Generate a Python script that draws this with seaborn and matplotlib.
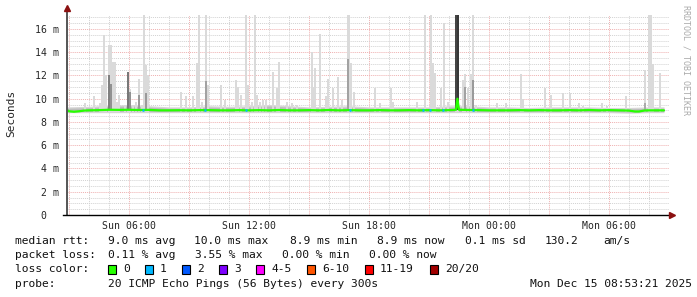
import numpy as np
import pandas as pd
import matplotlib
matplotlib.use("Agg")
import matplotlib.pyplot as plt
from matplotlib.ticker import MultipleLocator, FixedLocator, FixedFormatter
import seaborn as sns

# ---------------- data ----------------
x_tick_hours = [6, 12, 18, 24, 30]
x_tick_labels = ["Sun 06:00", "Sun 12:00", "Sun 18:00", "Mon 00:00", "Mon 06:00"]
y_tick_ms = [0, 2, 4, 6, 8, 10, 12, 14, 16]
y_tick_labels = ["0  ", "2 m", "4 m", "6 m", "8 m", "10 m", "12 m", "14 m", "16 m"]

median_hours = [2.9, 3.0, 3.25, 3.5, 3.75, 4.0, 4.5, 5.0, 5.5, 6.0, 6.5, 7.0, 7.5, 8.0,
                8.5, 9.0, 9.5, 10.0, 10.5, 11.0, 11.5, 12.0, 12.5, 13.0, 13.5, 14.0,
                14.5, 15.0, 15.5, 16.0, 16.5, 17.0, 17.5, 18.0, 18.5, 19.0, 19.5, 20.0,
                20.5, 21.0, 21.5, 22.0, 22.35, 22.42, 22.5, 23.0, 23.5, 24.0, 24.5,
                25.0, 25.5, 26.0, 26.5, 27.0, 27.5, 28.0, 28.5, 29.0, 29.5, 30.0,
                30.5, 31.0, 31.3, 31.5, 31.75, 32.0, 32.5, 32.75]
median_ms = [9.02, 8.92, 8.88, 8.92, 8.98, 9.0, 9.02, 9.05, 9.04, 9.05, 9.03, 9.04, 9.0,
             9.0, 9.01, 9.0, 9.02, 9.02, 9.0, 9.0, 9.02, 9.0, 9.02, 9.0, 9.03, 9.0,
             9.0, 9.02, 9.0, 9.03, 9.0, 9.02, 9.0, 9.0, 9.02, 9.0, 9.0, 9.02,
             9.0, 9.02, 9.0, 9.02, 9.05, 10.0, 9.05, 9.03, 9.02, 9.0, 9.0,
             9.0, 9.02, 9.0, 9.02, 9.0, 9.0, 9.02, 9.0, 9.03, 9.0, 9.02,
             9.0, 8.98, 8.9, 8.9, 8.98, 9.0, 9.0, 9.0]

smoke_hours = [2.9, 4, 5, 6, 7, 8, 9, 10, 11, 12, 13, 14, 15, 16, 17, 18, 19, 20, 21,
               22, 23, 24, 25, 26, 27, 28, 29, 30, 31, 32, 32.75]
smoke_low_ms = [8.8, 8.8, 8.8, 8.8, 8.8, 8.8, 8.8, 8.8, 8.8, 8.8, 8.8, 8.8, 8.8, 8.8,
                8.8, 8.8, 8.8, 8.8, 8.8, 8.8, 8.8, 8.8, 8.8, 8.8, 8.8, 8.8, 8.8, 8.8,
                8.75, 8.8, 8.8]
smoke_high_ms = [9.3, 9.35, 9.45, 9.5, 9.4, 9.3, 9.3, 9.4, 9.35, 9.4, 9.5, 9.4, 9.3,
                 9.35, 9.4, 9.3, 9.3, 9.3, 9.3, 9.4, 9.4, 9.3, 9.3, 9.25, 9.3, 9.3,
                 9.3, 9.25, 9.25, 9.3, 9.3]

spike_hours = [3.80, 4.25, 4.55, 4.65, 4.75, 4.85, 5.00, 5.10, 5.20, 5.30, 5.40, 5.50,
               5.80, 5.95, 6.05, 6.20, 6.35, 6.50, 6.65, 6.75, 6.85, 6.95,
               8.60, 8.85, 9.20, 9.40, 9.50, 9.65, 9.85, 9.95, 10.60, 10.80, 11.35,
               11.45, 11.60, 11.85, 11.95, 12.15, 12.30, 12.40, 12.55, 12.70,
               12.85, 13.20, 13.40, 13.50, 13.90, 14.15, 14.40, 15.15, 15.20, 15.30,
               15.55, 15.85, 15.95, 16.20, 16.45, 16.65, 16.95, 17.00, 17.10, 17.25,
               18.30, 18.55, 19.10, 19.20, 20.40, 20.80, 21.10, 21.20, 21.30, 21.60,
               21.75, 21.95, 22.35, 22.45, 22.70,
               22.80, 22.95, 23.10, 23.20, 23.35, 24.40, 24.85, 25.60, 25.70, 26.80,
               27.10, 27.70,
               28.05, 28.50, 28.70, 29.65, 29.90, 30.85, 31.80, 32.00, 32.10, 32.20,
               32.55]
spike_max_ms = [9.6, 10.2, 9.6, 11.2, 15.5, 12.0, 14.6, 14.6, 13.2, 13.2, 9.7, 10.3,
                9.5, 12.3, 10.8, 9.5, 9.75, 11.7, 9.5, 17.2, 12.9, 12.0,
                10.6, 10.2, 10.2, 13.1, 17.2, 9.75, 17.2, 11.2, 11.2, 9.9, 11.6,
                11.0, 10.3, 17.2, 11.2, 9.75, 17.2, 10.3, 9.75, 9.9,
                9.9, 12.3, 10.9, 13.2, 9.75, 9.6, 9.5, 14.05, 11.0, 12.6,
                15.6, 10.2, 11.7, 10.9, 11.9, 9.9, 17.2, 17.2, 13.05, 10.6,
                10.9, 9.6, 10.9, 9.75, 9.75, 17.2, 17.2, 13.05, 12.2, 10.9,
                16.5, 9.75, 17.2, 17.2, 11.6,
                12.1, 10.9, 12.1, 17.2, 9.5, 9.6, 9.6, 12.1, 10.0, 10.9,
                10.3, 10.5,
                10.5, 9.6, 9.4, 9.6, 9.4, 10.25, 12.5, 17.2, 17.2, 13.0,
                12.2]

dark_hours = [5.00, 5.10, 5.95, 6.05, 6.50, 6.85, 9.85, 16.95, 22.35, 22.45, 22.80,
              23.20, 31.80]
dark_top_ms = [12.0, 11.3, 12.3, 10.6, 10.3, 10.5, 11.5, 13.4, 17.2, 17.2, 11.0,
               11.6, 9.6]
dark_pings = [9, 7, 10, 7, 6, 6, 5, 5, 16, 18, 5, 6, 4]

loss_hours = [6.70, 9.80, 11.85, 17.05, 20.70, 21.05, 21.70, 23.20]
loss_pings = [1, 1, 1, 1, 1, 1, 1, 1]

legend_labels = ["0", "1", "2", "3", "4-5", "6-10", "11-19", "20/20"]
legend_colors = ["#26ff00", "#00b8ff", "#0059ff", "#7e00ff", "#ff00ff", "#ff5500",
                 "#ff0000", "#a10000"]

stats_rtt = ["9.0 ms avg", "10.0 ms max", "8.9 ms min", "8.9 ms now", "0.1 ms sd",
             "130.2", "am/s"]
stats_loss = ["0.11 % avg", "3.55 % max", "0.00 % min", "0.00 % now"]
probe_text = "20 ICMP Echo Pings (56 Bytes) every 300s"
stamp_text = "Mon Dec 15 08:53:21 2025"

# ---------------- style ----------------
sns.set_style("white")
plt.rcParams["font.family"] = ["DejaVu Sans Mono", "DejaVu Sans"]

W, H = 697, 297
fig = plt.figure(figsize=(W / 100, H / 100), dpi=100)
fig.patch.set_facecolor("white")
ax = fig.add_axes([67 / W, (H - 215) / H, 602 / W, 200 / H])
ax.set_facecolor("white")
ax.set_xlim(2.9, 33.0)
ax.set_ylim(0, 17.2)


def loss_color(n):
    if n == 0:
        return legend_colors[0]
    if n == 1:
        return legend_colors[1]
    if n == 2:
        return legend_colors[2]
    if n == 3:
        return legend_colors[3]
    if n <= 5:
        return legend_colors[4]
    if n <= 10:
        return legend_colors[5]
    if n <= 19:
        return legend_colors[6]
    return legend_colors[7]


# grid
dot = (0, (1, 1))
for h in np.arange(3, 33.01, 1):
    if h % 3 == 0:
        ax.axvline(h, color="#efb0b0", lw=0.7, ls=dot, zorder=0)
    else:
        ax.axvline(h, color="#d2d2d2", lw=0.7, ls=dot, zorder=0)
for v in np.arange(0.5, 17.2, 0.5):
    if abs(v % 2) < 1e-9:
        ax.axhline(v, color="#efb0b0", lw=0.7, ls=dot, zorder=0)
    else:
        ax.axhline(v, color="#d2d2d2", lw=0.7, ls=dot, zorder=0)

# smoke: baseline band
ax.fill_between(smoke_hours, smoke_low_ms, smoke_high_ms, color="#d6d6d6", lw=0, zorder=1)
ax.fill_between(smoke_hours, [m + 0.1 for m in smoke_low_ms],
                [m - 0.12 for m in smoke_high_ms], color="#bcbcbc", lw=0, zorder=1)

# smoke: spikes
spikes = pd.DataFrame({"h": spike_hours, "top": spike_max_ms})
ax.bar(spikes["h"], spikes["top"] - 8.85, bottom=8.85, width=0.12,
       color="#dadada", lw=0, zorder=2)
dark = pd.DataFrame({"h": dark_hours, "top": dark_top_ms, "n": dark_pings})
for _, r in dark.iterrows():
    g = max(0.22, 0.8 - 0.033 * r["n"])
    ax.bar(r["h"], r["top"] - 9.0, bottom=9.0, width=0.11,
           color=(g, g, g), lw=0, zorder=3)

# median line
med = pd.DataFrame({"h": median_hours, "ms": median_ms})
sns.lineplot(data=med, x="h", y="ms", color=legend_colors[0], lw=1.6, ax=ax,
             zorder=5, estimator=None, sort=False)
for h, n in zip(loss_hours, loss_pings):
    yv = float(np.interp(h, median_hours, median_ms))
    ax.hlines(yv, h - 0.07, h + 0.07, colors=loss_color(n), lw=1.8, zorder=6)

# ticks
ax.xaxis.set_major_locator(FixedLocator(x_tick_hours))
ax.xaxis.set_major_formatter(FixedFormatter(x_tick_labels))
ax.xaxis.set_minor_locator(MultipleLocator(1))
ax.yaxis.set_major_locator(FixedLocator(y_tick_ms))
ax.yaxis.set_major_formatter(FixedFormatter(y_tick_labels))
ax.yaxis.set_minor_locator(MultipleLocator(0.5))
ax.tick_params(axis="both", which="major", length=3, width=0.8, color="#444444",
               labelsize=7.1, direction="out")
ax.tick_params(axis="both", which="minor", length=2, width=0.6, color="#888888",
               direction="out")
ax.tick_params(axis="x", pad=1.5)
ax.tick_params(axis="y", pad=2.5)
ax.set_xlabel("")
ax.set_ylabel("")

for s in ["top", "right"]:
    ax.spines[s].set_visible(False)
ax.spines["left"].set_color("#555555")
ax.spines["left"].set_linewidth(1.4)
ax.spines["bottom"].set_color("#000000")
ax.spines["bottom"].set_linewidth(1.0)
ax.spines["left"].set_bounds(0, 17.6)
ax.spines["bottom"].set_bounds(2.7, 33.0)
ax.spines["left"].set_zorder(7)
ax.spines["bottom"].set_zorder(7)

# arrows
ax.plot([0], [1.0 + 7 / 200], marker="^", color="#8b1010", markersize=5,
        transform=ax.transAxes, clip_on=False, zorder=8)
ax.plot([1.0 + 3 / 602], [0], marker=">", color="#8b1010", markersize=5,
        transform=ax.transAxes, clip_on=False, zorder=8)

# y label and side text
fig.text(11 / W, 1 - 113 / H, "Seconds", rotation=90, ha="center", va="center",
         fontsize=8.0)
fig.text(686 / W, 1 - 60 / H, "RRDTOOL / TOBI OETIKER", rotation=270, ha="center",
         va="center", fontsize=6.0, color="#aaaaaa")

# legend text
fs = 8.1


def put(px, py, s, **kw):
    fig.text(px / W, 1 - py / H, s, fontsize=fs, va="center", color="#111111", **kw)


put(15, 241, "median rtt:")
for px, s in zip([108, 194, 290, 377, 465, 545, 603], stats_rtt):
    put(px, 241, s)
put(15, 255, "packet loss:")
for px, s in zip([108, 195, 282, 369], stats_loss):
    put(px, 255, s)
put(15, 269, "loss color:")
bx = 108
for lab, col in zip(legend_labels, legend_colors):
    fig.patches.append(matplotlib.patches.Rectangle(
        (bx / W, 1 - 274 / H), 8 / W, 9 / H, transform=fig.transFigure,
        facecolor=col, edgecolor="black", lw=0.8))
    put(bx + 15, 269, lab)
    bx += 37 + 7 * (len(lab) - 1)
put(15, 284, "probe:")
put(108, 284, probe_text)
put(692, 284, stamp_text, ha="right")

fig.savefig("out.png", dpi=100, facecolor="white")
